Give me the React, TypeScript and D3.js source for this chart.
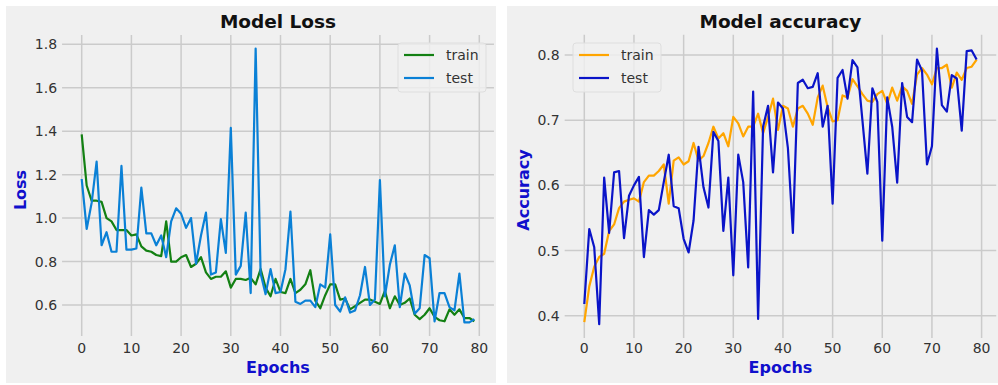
import React from "react";
import * as d3 from "d3";

const epochs = d3.range(80);

const lossTrain = [
  1.385, 1.15, 1.08, 1.08, 1.075, 1.0, 0.985, 0.945, 0.945, 0.945,
  0.92, 0.925, 0.87, 0.85, 0.845, 0.83, 0.825, 0.985, 0.8, 0.8,
  0.82, 0.83, 0.775, 0.79, 0.82, 0.75, 0.72, 0.73, 0.73, 0.755,
  0.68, 0.72, 0.72, 0.715, 0.725, 0.695, 0.765, 0.68, 0.64, 0.72,
  0.66, 0.655, 0.72, 0.655, 0.67, 0.695, 0.76, 0.62, 0.585, 0.645,
  0.695, 0.695, 0.625, 0.63, 0.58, 0.595, 0.61, 0.625, 0.625, 0.615,
  0.605, 0.665, 0.585, 0.64, 0.6, 0.61, 0.63, 0.555, 0.535, 0.555,
  0.585, 0.545, 0.53, 0.525, 0.58, 0.555, 0.58, 0.54, 0.54, 0.525,
];

const lossTest = [
  1.18, 0.95, 1.07, 1.26, 0.875, 0.935, 0.845, 0.845, 1.24, 0.855,
  0.855, 0.86, 1.14, 0.93, 0.93, 0.875, 0.92, 0.82, 0.985, 1.045,
  1.02, 0.955, 1.0, 0.79, 0.92, 1.025, 0.74, 0.75, 0.995, 0.84,
  1.415, 0.74, 0.78, 1.025, 0.655, 1.78, 0.745, 0.65, 0.765, 0.655,
  0.66, 0.765, 1.03, 0.615, 0.605, 0.62, 0.62, 0.59, 0.695, 0.68,
  0.925, 0.6, 0.57, 0.635, 0.565, 0.575, 0.645, 0.775, 0.6, 0.625,
  1.175, 0.64, 0.785, 0.875, 0.59, 0.745, 0.69, 0.56, 0.585, 0.83,
  0.815, 0.525, 0.655, 0.655, 0.59, 0.575, 0.745, 0.52, 0.52, 0.535,
];

const accTrain = [
  0.39, 0.445, 0.475, 0.49, 0.495, 0.53, 0.54, 0.565, 0.575, 0.578,
  0.58, 0.575, 0.605, 0.615, 0.615, 0.622, 0.632, 0.572, 0.638, 0.643,
  0.632, 0.637, 0.665, 0.638, 0.645, 0.665, 0.69, 0.672, 0.68, 0.66,
  0.705, 0.695, 0.675, 0.69, 0.69, 0.71, 0.68, 0.705, 0.733, 0.685,
  0.722, 0.718, 0.69, 0.718, 0.722, 0.71, 0.693, 0.735, 0.753, 0.72,
  0.698, 0.7, 0.738, 0.735, 0.763, 0.752, 0.74, 0.73, 0.728, 0.74,
  0.745, 0.725, 0.75, 0.73, 0.752, 0.745, 0.725, 0.77, 0.78, 0.77,
  0.755, 0.78, 0.78, 0.785, 0.75, 0.773, 0.762, 0.78, 0.782, 0.793,
];

const accTest = [
  0.418, 0.533, 0.505, 0.387, 0.612, 0.527, 0.62, 0.622, 0.519, 0.584,
  0.6, 0.613, 0.49, 0.562, 0.555, 0.562, 0.605, 0.647, 0.568, 0.565,
  0.518, 0.497, 0.546, 0.659, 0.597, 0.566, 0.682, 0.668, 0.53, 0.612,
  0.462, 0.647, 0.605, 0.474, 0.744, 0.395, 0.69, 0.722, 0.62, 0.727,
  0.718, 0.657, 0.527, 0.757, 0.762, 0.749, 0.751, 0.772, 0.69, 0.722,
  0.572, 0.765, 0.777, 0.733, 0.792, 0.781, 0.7, 0.618, 0.749, 0.728,
  0.515, 0.735, 0.69, 0.604, 0.757, 0.705, 0.697, 0.793, 0.776, 0.632,
  0.66, 0.81, 0.723, 0.713, 0.769, 0.764, 0.684, 0.806, 0.807, 0.793,
];

const xTicks = [0, 10, 20, 30, 40, 50, 60, 70, 80];
const lossTicks = [0.6, 0.8, 1.0, 1.2, 1.4, 1.6, 1.8];
const accTicks = [0.4, 0.5, 0.6, 0.7, 0.8];
const seriesNames = ["train", "test"];

const FONT = "'DejaVu Sans', sans-serif";

type PanelProps = {
  bg: [number, number, number, number];
  x0: number; x80: number;
  yTickA: [number, number]; yTickB: [number, number];
  yTicks: number[];
  fmt: (v: number) => string;
  train: number[]; test: number[];
  colors: [string, string];
  title: string; ylabel: string; ylabelX: number;
  legendLeft: number;
};

function Panel(p: PanelProps) {
  const x = d3.scaleLinear().domain([0, 80]).range([p.x0, p.x80]);
  const y = d3.scaleLinear().domain([p.yTickA[0], p.yTickB[0]]).range([p.yTickA[1], p.yTickB[1]]);
  const xlim = [-3.95, 82.95];
  const all = p.train.concat(p.test);
  const mn = d3.min(all)!, mx = d3.max(all)!;
  const pad = (mx - mn) * 0.05;
  const ylim = [mn - pad, mx + pad];
  const L = x(xlim[0]), R = x(xlim[1]);
  const T = y(ylim[1]), B = y(ylim[0]);
  const line = d3.line<number>().x((_, i) => x(epochs[i])).y((v) => y(v));
  const cx = (L + R) / 2;
  const midY = 190;
  const lg = { x: p.legendLeft, y: 43, w: 88, h: 49 };
  return (
    <g>
      <rect x={p.bg[0]} y={p.bg[1]} width={p.bg[2]} height={p.bg[3]} fill="#f0f0f0" />
      {p.yTicks.map((t) => (
        <line key={"h" + t} x1={L} x2={R} y1={y(t)} y2={y(t)} stroke="#cbcbcb" strokeWidth={1.5} />
      ))}
      {xTicks.map((t) => (
        <line key={"v" + t} x1={x(t)} x2={x(t)} y1={T} y2={B} stroke="#cbcbcb" strokeWidth={1.5} />
      ))}
      <path d={line(p.train)!} fill="none" stroke={p.colors[0]} strokeWidth={2.2} strokeLinejoin="round" />
      <path d={line(p.test)!} fill="none" stroke={p.colors[1]} strokeWidth={2.2} strokeLinejoin="round" />
      {p.yTicks.map((t) => (
        <text key={"yl" + t} x={L - 5} y={y(t)} dy="0.36em" textAnchor="end" fontSize={14} fill="#333" fontFamily={FONT}>
          {p.fmt(t)}
        </text>
      ))}
      {xTicks.map((t) => (
        <text key={"xl" + t} x={x(t)} y={353} textAnchor="middle" fontSize={14} fill="#333" fontFamily={FONT}>
          {t}
        </text>
      ))}
      <text x={cx} y={28} textAnchor="middle" fontSize={18.5} fontWeight="bold" fill="#111" fontFamily={FONT}>
        {p.title}
      </text>
      <text x={cx} y={373} textAnchor="middle" fontSize={16} fontWeight="bold" fill="#1010cc" fontFamily={FONT}>
        Epochs
      </text>
      <text transform={`translate(${p.ylabelX},${midY}) rotate(-90)`} textAnchor="middle" dy="0.36em" fontSize={16} fontWeight="bold" fill="#1010cc" fontFamily={FONT}>
        {p.ylabel}
      </text>
      <rect x={lg.x} y={lg.y} width={lg.w} height={lg.h} rx={3} fill="#f0f0f0" fillOpacity={0.8} stroke="#dedede" strokeWidth={1} />
      {seriesNames.map((n, i) => (
        <g key={n}>
          <line x1={lg.x + 6} x2={lg.x + 36} y1={lg.y + 12 + i * 23} y2={lg.y + 12 + i * 23} stroke={p.colors[i]} strokeWidth={2.2} />
          <text x={lg.x + 48} y={lg.y + 12 + i * 23} dy="0.36em" fontSize={14} fill="#333" fontFamily={FONT}>
            {n}
          </text>
        </g>
      ))}
    </g>
  );
}

export default function App() {
  return (
    <svg width={998} height={385} style={{ position: "absolute", left: 0, top: 0, background: "#fff" }}>
      <Panel
        bg={[6, 6, 490, 377]}
        x0={81.7} x80={479.3}
        yTickA={[0.6, 305]} yTickB={[1.8, 44.3]}
        yTicks={lossTicks}
        fmt={(v) => v.toFixed(1)}
        train={lossTrain} test={lossTest}
        colors={["#138013", "#0a80d6"]}
        title="Model Loss" ylabel="Loss" ylabelX={20}
        legendLeft={398}
      />
      <Panel
        bg={[507, 6, 491, 377]}
        x0={584.3} x80={981.6}
        yTickA={[0.4, 315.7]} yTickB={[0.8, 55]}
        yTicks={accTicks}
        fmt={(v) => v.toFixed(1)}
        train={accTrain} test={accTest}
        colors={["#ffa500", "#0a14c8"]}
        title="Model accuracy" ylabel="Accuracy" ylabelX={523}
        legendLeft={573}
      />
    </svg>
  );
}
